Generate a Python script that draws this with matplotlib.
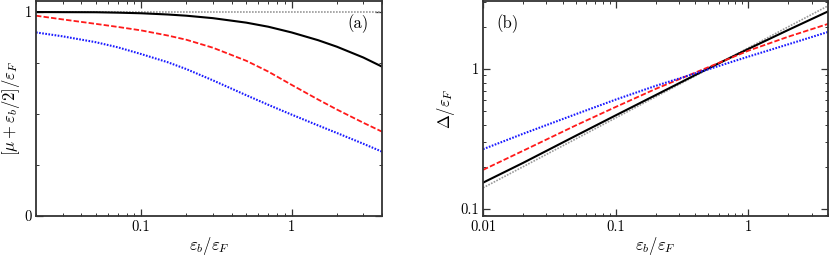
import matplotlib
matplotlib.use("Agg")
import matplotlib.pyplot as plt
from matplotlib.ticker import FixedLocator, NullFormatter, LogLocator

plt.rcParams['font.family'] = 'serif'
plt.rcParams['font.serif'] = ['cmr10', 'DejaVu Serif']
plt.rcParams['mathtext.fontset'] = 'cm'
plt.rcParams['axes.formatter.use_mathtext'] = True

# panel (a): [mu + eb/2]/eF vs eb/eF
xa = [0.02, 0.03, 0.05, 0.07, 0.1, 0.15, 0.2, 0.3, 0.5, 0.7, 1.0, 1.5, 2.0, 3.0, 4.0]
a_black = [1.0, 0.9995, 0.999, 0.997, 0.994, 0.988, 0.982, 0.97, 0.948, 0.928,
           0.9, 0.862, 0.83, 0.777, 0.732]
a_red = [0.982, 0.964, 0.942, 0.927, 0.910, 0.885, 0.864, 0.825, 0.761, 0.708,
         0.643, 0.571, 0.522, 0.457, 0.413]
a_blue = [0.90, 0.881, 0.852, 0.827, 0.794, 0.754, 0.720, 0.665, 0.592, 0.545,
          0.497, 0.444, 0.407, 0.354, 0.315]
xa_gray = [0.02, 4.0]
a_gray = [1.0, 1.0]

# panel (b): Delta/eF vs eb/eF
xb = [0.01, 0.02, 0.05, 0.1, 0.2, 0.5, 1.0, 2.0, 4.0]
b_black = [0.154, 0.213, 0.333, 0.466, 0.65, 1.01, 1.39, 1.9, 2.58]
b_red = [0.19, 0.26, 0.395, 0.535, 0.72, 1.03, 1.35, 1.70, 2.10]
b_blue = [0.267, 0.344, 0.475, 0.604, 0.757, 0.995, 1.225, 1.50, 1.84]
xb_gray = [0.01, 0.1, 1.0, 4.0]
b_gray = [0.1414, 0.447, 1.414, 2.828]

fig = plt.figure(figsize=(8.3, 2.58), dpi=100)
ax1 = fig.add_axes([0.0434, 0.163, 0.417, 0.833])
ax2 = fig.add_axes([0.582, 0.163, 0.4157, 0.833])

gray_style = dict(color='#999999', lw=1.2, linestyle=(0, (1.0, 0.8)))
black_style = dict(color='black', lw=1.5, linestyle='-')
red_style = dict(color='#ff1a1a', lw=1.3, linestyle=(0, (3.0, 1.2)))
blue_style = dict(color='#1a1aff', lw=1.5, linestyle=(0, (0.8, 0.7)))

ax1.plot(xa_gray, a_gray, **gray_style)
ax1.plot(xa, a_black, **black_style)
ax1.plot(xa, a_red, **red_style)
ax1.plot(xa, a_blue, **blue_style)
ax1.set_xscale('log')
ax1.set_xlim(0.02, 4)
ax1.set_ylim(0, 1.054)
ax1.set_xticks([0.1, 1])
ax1.set_xticklabels(['0.1', '1'])
ax1.set_yticks([0, 1])
ax1.set_yticklabels(['0', '1'])
ax1.yaxis.set_minor_locator(FixedLocator([0.25, 0.5, 0.75]))
ax1.set_xlabel(r'$\varepsilon_b/\varepsilon_F$', fontsize=12, labelpad=1)
ax1.set_ylabel(r'$[\mu+\varepsilon_b/2]/\varepsilon_F$', fontsize=12, labelpad=2)
ax1.text(0.96, 0.94, '(a)', transform=ax1.transAxes, ha='right', va='top', fontsize=12)

ax2.plot(xb_gray, b_gray, **gray_style)
ax2.plot(xb, b_black, **black_style)
ax2.plot(xb, b_red, **red_style)
ax2.plot(xb, b_blue, **blue_style)
ax2.set_xscale('log')
ax2.set_yscale('log')
ax2.set_xlim(0.01, 4)
ax2.set_ylim(0.089, 3.06)
ax2.set_xticks([0.01, 0.1, 1])
ax2.set_xticklabels(['0.01', '0.1', '1'])
ax2.set_yticks([0.1, 1])
ax2.set_yticklabels(['0.1', '1'])
ax2.yaxis.set_minor_locator(LogLocator(base=10, subs=range(2, 10)))
ax2.yaxis.set_minor_formatter(NullFormatter())
ax2.set_xlabel(r'$\varepsilon_b/\varepsilon_F$', fontsize=12, labelpad=1)
ax2.set_ylabel(r'$\Delta/\varepsilon_F$', fontsize=12, labelpad=2)
ax2.text(0.04, 0.94, '(b)', transform=ax2.transAxes, ha='left', va='top', fontsize=12)

for ax in (ax1, ax2):
    ax.xaxis.set_minor_formatter(NullFormatter())
    ax.tick_params(which='both', direction='in', top=True, right=True,
                   labelsize=10.5, color='#333333', pad=3)
    ax.tick_params(which='major', length=5, width=0.9)
    ax.tick_params(which='minor', length=2.5, width=0.7)
    for s in ax.spines.values():
        s.set_color('#333333')
        s.set_linewidth(1.3)

plt.savefig('out.png', dpi=100)
